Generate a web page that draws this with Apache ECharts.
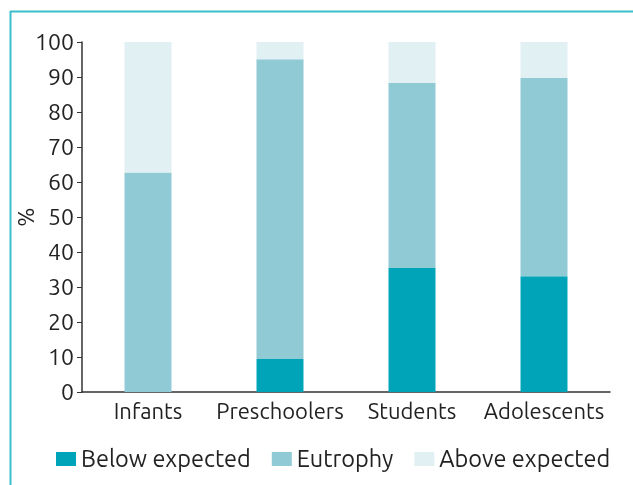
<!DOCTYPE html>
<html><head><meta charset="utf-8">
<script src="https://cdn.jsdelivr.net/npm/echarts@6/dist/echarts.min.js"></script>
<style>html,body{margin:0;padding:0;background:#fff}#c{width:633px;height:485px}</style>
</head><body><div id="c"></div>
<script>
const categories = ['Infants', 'Preschoolers', 'Students', 'Adolescents'];
const belowExpected = [0, 9.4, 35.4, 33.1];
const eutrophy = [62.7, 85.7, 52.9, 56.6];
const aboveExpected = [37.3, 4.9, 11.7, 10.3];
const yTicks = [0, 10, 20, 30, 40, 50, 60, 70, 80, 90, 100];

const font = 'Ubuntu, "Open Sans", "Noto Sans", sans-serif';
const chart = echarts.init(document.getElementById('c'));
chart.setOption({
  animation: false,
  textStyle: { fontFamily: font },
  graphic: [
    { type: 'line', shape: { x1: 10, y1: 11.5, x2: 633, y2: 11.5 }, style: { stroke: '#3DBDC9', lineWidth: 2 } },
    { type: 'line', shape: { x1: 10.5, y1: 11, x2: 10.5, y2: 485 }, style: { stroke: '#3DBDC9', lineWidth: 2 } }
  ],
  grid: { left: 82, right: 23, top: 42, bottom: 93, containLabel: false, outerBoundsMode: 'none' },
  legend: {
    bottom: 9, left: 51, itemWidth: 20, itemHeight: 14, itemGap: 21,
    icon: 'rect',
    textStyle: { fontSize: 23.5, color: '#222', fontFamily: font },
    data: ['Below expected', 'Eutrophy', 'Above expected']
  },
  xAxis: {
    type: 'category', data: categories,
    axisLine: { lineStyle: { color: '#333', width: 1.5 } },
    axisTick: { length: 8, lineStyle: { color: '#333' } },
    axisLabel: { interval: 0, fontSize: 22, color: '#222', margin: 9, fontFamily: font }
  },
  yAxis: {
    type: 'value', min: 0, max: 100, interval: 10,
    name: '%', nameLocation: 'middle', nameGap: 44, nameRotate: 90, nameMoveOverlap: false,
    nameTextStyle: { fontSize: 23, color: '#222', fontFamily: font },
    axisLine: { show: true, lineStyle: { color: '#333', width: 1.5 } },
    axisTick: { show: true, length: 5, lineStyle: { color: '#333' } },
    splitLine: { show: false },
    axisLabel: { fontSize: 23, color: '#222', margin: 8, fontFamily: font,
      formatter: v => yTicks.includes(v) ? String(v) : '' }
  },
  series: [
    { name: 'Below expected', type: 'bar', stack: 's', data: belowExpected, barWidth: 47, itemStyle: { color: '#00A4B8' } },
    { name: 'Eutrophy', type: 'bar', stack: 's', data: eutrophy, barWidth: 47, itemStyle: { color: '#8FCAD5' } },
    { name: 'Above expected', type: 'bar', stack: 's', data: aboveExpected, barWidth: 47, itemStyle: { color: '#E1F0F2' } }
  ]
});
</script></body></html>
